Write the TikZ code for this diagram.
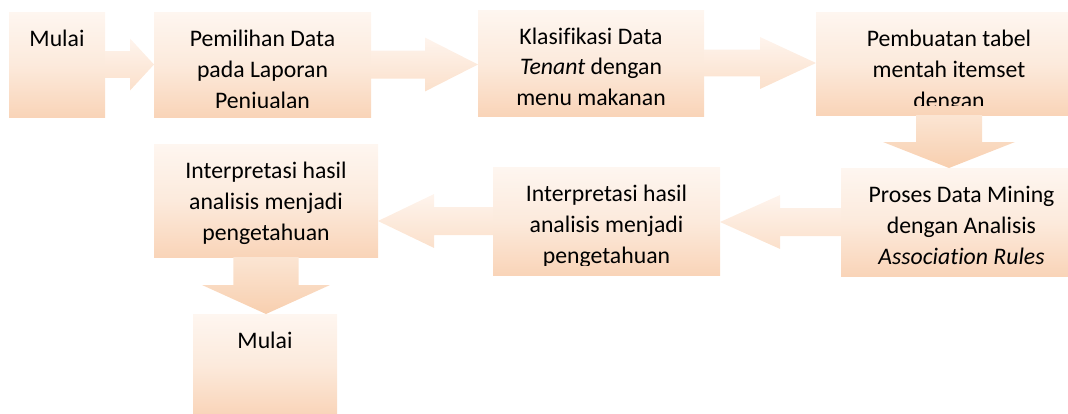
\documentclass[tikz,border=0pt]{standalone}
\usepackage{fontspec}
\setmainfont{Carlito}[Ligatures={NoCommon}]
\usetikzlibrary{calc}
\definecolor{btop}{RGB}{254,246,240}
\definecolor{bmid}{RGB}{252,234,220}
\definecolor{bbot}{RGB}{249,212,184}
\definecolor{htop}{RGB}{254,244,237}
\definecolor{hbot}{RGB}{251,224,203}
\definecolor{vtop}{RGB}{251,229,211}
\definecolor{vbot}{RGB}{248,207,175}
\newcommand{\mkbox}[5]{\node[box, minimum width={(#4-#2)*0.75pt}, minimum height={(#5-#3)*0.75pt}] (#1) at (#2,#3) {};}
\newcommand{\mktext}[2]{%
  \begin{scope}
    \clip (#1.north west) rectangle ([yshift=7.1pt]#1.south east);
    \node[txt] (#1t) at ([yshift=-25.5pt]#1.north) {\parbox[t]{180pt}{\centering #2}};
  \end{scope}}
\newcommand{\rarr}[5]{%
  \path[harrow] let \p1=(#1.east), \p2=(#2.west) in
    (\x1,\y1+#3) -- (\x2-#5,\y1+#3) -- (\x2-#5,\y1+#4) -- (\x2,\y1)
    -- (\x2-#5,\y1-#4) -- (\x2-#5,\y1-#3) -- (\x1,\y1-#3) -- cycle;}
\newcommand{\larr}[5]{%
  \path[harrow] let \p1=(#1.west), \p2=(#2.east) in
    (\x1,\y1+#3) -- (\x2+#5,\y1+#3) -- (\x2+#5,\y1+#4) -- (\x2,\y1)
    -- (\x2+#5,\y1-#4) -- (\x2+#5,\y1-#3) -- (\x1,\y1-#3) -- cycle;}
\newcommand{\darr}[5]{%
  \path[varrow] let \p1=(#1.south), \p2=(#2.north) in
    (\x1-#3,\y1) -- (\x1-#3,\y2+#5) -- (\x1-#4,\y2+#5) -- (\x1,\y2)
    -- (\x1+#4,\y2+#5) -- (\x1+#3,\y2+#5) -- (\x1+#3,\y1) -- cycle;}
\begin{document}
\begin{tikzpicture}[x=0.75pt,y=-0.75pt,
  box/.style={inner sep=0pt, outer sep=0pt, top color=btop, bottom color=bbot, middle color=bmid, anchor=north west},
  txt/.style={inner sep=0pt, outer sep=0pt, anchor=base, font=\fontsize{17.8pt}{23.25pt}\selectfont},
  harrow/.style={top color=htop, bottom color=hbot},
  varrow/.style={top color=vtop, bottom color=vbot}]
\useasboundingbox (0,0) rectangle (1068,414);
\clip (0,0) rectangle (1068,414);
% boxes
\mkbox{b1}{9}{12}{105}{117}
\mkbox{b2}{154}{12}{371}{117}
\mkbox{b3}{478}{10}{704}{116}
\mkbox{b4}{816}{12}{1082}{115}
\mkbox{b5}{841}{168}{1082}{276}
\mkbox{b6}{493}{167}{720}{275}
\mkbox{b7}{154}{144}{378}{257}
\mkbox{b8}{193}{314}{337}{416}
% arrows
\rarr{b1}{b2}{10.1pt}{19.5pt}{18pt}
\rarr{b2}{b3}{10.5pt}{20.2pt}{39.75pt}
\rarr{b3}{b4}{10.1pt}{19.5pt}{42pt}
\darr{b4}{b5}{24.75pt}{49.5pt}{19.5pt}
\larr{b5}{b6}{10.5pt}{20.2pt}{45pt}
\larr{b6}{b7}{10.5pt}{20.2pt}{42pt}
\darr{b7}{b8}{24.4pt}{48pt}{21.75pt}
% texts
\mktext{b1}{Mulai}
\mktext{b2}{Pemilihan Data\\pada Laporan\\Penjualan}
\mktext{b3}{Klasifikasi Data\\\textit{Tenant} dengan\\menu makanan}
\mktext{b4}{Pembuatan tabel\\mentah itemset\\dengan}
\mktext{b5}{Proses Data Mining\\dengan Analisis\\\textit{Association Rules}}
\mktext{b6}{Interpretasi hasil\\analisis menjadi\\pengetahuan}
\mktext{b7}{Interpretasi hasil\\analisis menjadi\\pengetahuan}
\mktext{b8}{Mulai}
\end{tikzpicture}
\end{document}
